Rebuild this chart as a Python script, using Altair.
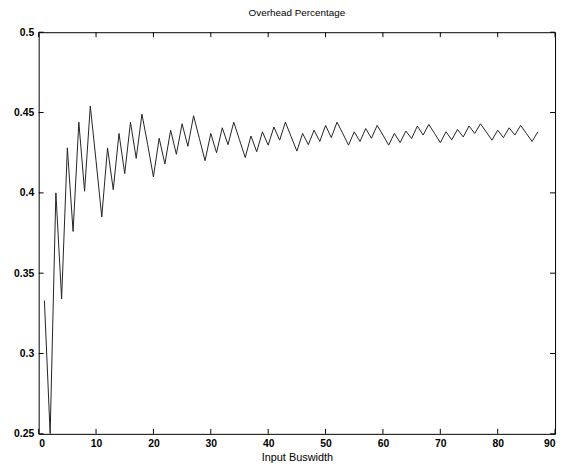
import altair as alt
import pandas as pd

buswidth = list(range(1, 88))
overhead = [
    0.333, 0.250, 0.400, 0.334, 0.428, 0.376, 0.444, 0.401, 0.454, 0.420,
    0.385, 0.428, 0.402, 0.437, 0.412, 0.444, 0.4215, 0.449, 0.430, 0.410,
    0.434, 0.418, 0.439, 0.424, 0.443, 0.429, 0.448, 0.434, 0.420, 0.437,
    0.425, 0.4405, 0.430, 0.444, 0.433, 0.422, 0.4354, 0.4256, 0.438, 0.4297,
    0.441, 0.4328, 0.444, 0.435, 0.426, 0.437, 0.430, 0.439, 0.432, 0.442,
    0.4344, 0.444, 0.437, 0.4297, 0.438, 0.432, 0.440, 0.434, 0.442, 0.436,
    0.4297, 0.437, 0.4313, 0.4385, 0.4338, 0.4416, 0.436, 0.4426, 0.437, 0.4313,
    0.438, 0.433, 0.4395, 0.4348, 0.4416, 0.437, 0.443, 0.438, 0.4328, 0.439,
    0.4344, 0.4405, 0.436, 0.442, 0.437, 0.432, 0.438,
]
x_ticks = [0, 10, 20, 30, 40, 50, 60, 70, 80, 90]
y_ticks = [0.25, 0.3, 0.35, 0.4, 0.45, 0.5]

df = pd.DataFrame({"x": buswidth, "y": overhead})
xt = pd.DataFrame({"t": x_ticks})
yt = pd.DataFrame({"t": y_ticks})

FONT = "Liberation Sans"
xscale = alt.Scale(domain=[0, 90], nice=False, zero=False)
yscale = alt.Scale(domain=[0.25, 0.5], nice=False, zero=False)

line = alt.Chart(df).mark_line(color="#222222", strokeWidth=1, clip=True).encode(
    x=alt.X("x:Q", scale=xscale,
            axis=alt.Axis(values=x_ticks, title="Input Buswidth", tickSize=0,
                          domain=False, grid=False, labelPadding=5, titlePadding=2,
                          labelFont=FONT, labelFontSize=10.5, labelFontWeight="bold",
                          labelColor="black",
                          titleFont=FONT, titleFontSize=11, titleFontWeight="normal",
                          titleColor="black")),
    y=alt.Y("y:Q", scale=yscale,
            axis=alt.Axis(values=y_ticks, title=None, format="~g", tickSize=0,
                          domain=False, grid=False, labelPadding=5,
                          labelFont=FONT, labelFontSize=10.5, labelFontWeight="bold",
                          labelColor="black")),
)

bottom = alt.Chart(xt).mark_rule(color="black", y2Offset=-5).encode(
    x="t:Q", y=alt.datum(0.25), y2=alt.datum(0.25))
top = alt.Chart(xt).mark_rule(color="black", y2Offset=5).encode(
    x="t:Q", y=alt.datum(0.5), y2=alt.datum(0.5))
left = alt.Chart(yt).mark_rule(color="black", x2Offset=5).encode(
    y="t:Q", x=alt.datum(0), x2=alt.datum(0))
right = alt.Chart(yt).mark_rule(color="black", x2Offset=-5).encode(
    y="t:Q", x=alt.datum(90), x2=alt.datum(90))

chart = alt.layer(line, bottom, top, left, right).properties(
    width=522, height=406,
    title=alt.TitleParams("Overhead Percentage", font=FONT, fontSize=10,
                          fontWeight="normal", color="black", offset=9, anchor="middle"),
    autosize=alt.AutoSizeParams(type="none"),
    padding={"left": 31, "top": 22, "right": 5, "bottom": 28},
).configure_view(stroke="black", strokeWidth=1)

chart.save("out.html", embed_options={"renderer": "svg", "actions": False})
